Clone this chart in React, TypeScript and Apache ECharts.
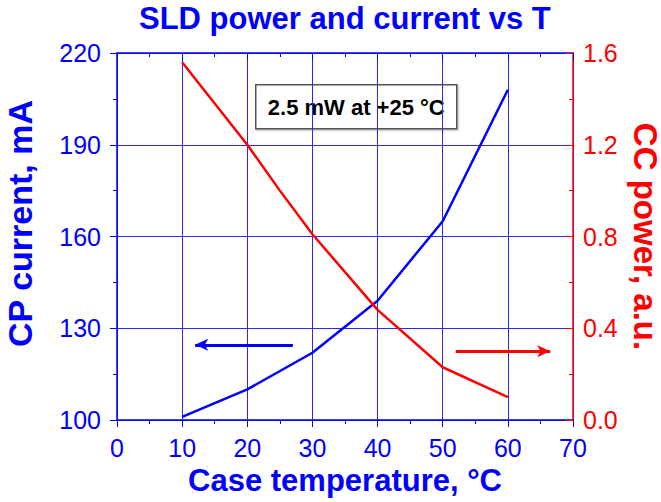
import React, { useEffect, useRef } from "react";
import * as echarts from "echarts";

const temps = [10, 20, 30, 40, 50, 60];
const cpCurrent = [101, 110, 122, 139, 165, 208];
const ccTemps = [10, 20, 25, 30, 40, 50, 60];
const ccPower = [1.56, 1.2, 1.0, 0.81, 0.48, 0.23, 0.1];

const xTicks = { min: 0, max: 70, interval: 10 };
const leftTicks = { min: 100, max: 220, interval: 30 };
const rightTicks = { min: 0, max: 1.6, interval: 0.4 };

const FONT = "'Liberation Sans', Arial, sans-serif";
const BLUE = "#0000ff";
const RED = "#ff0000";

export default function App() {
  const ref = useRef<HTMLDivElement>(null);
  useEffect(() => {
    if (!ref.current) return;
    const chart = echarts.init(ref.current, undefined, { renderer: "svg" });
    chart.setOption({
      animation: false,
      backgroundColor: "#ffffff",
      title: {
        text: "SLD power and current vs T",
        left: 139,
        top: 3,
        padding: 0,
        textStyle: { fontFamily: FONT, fontSize: 31, fontWeight: "bold", color: BLUE },
      },
      grid: {
        left: 117,
        right: 88,
        top: 53,
        bottom: 82,
        containLabel: false,
        outerBoundsMode: "none",
      },
      xAxis: [
        {
          type: "value",
          position: "bottom",
          ...xTicks,
          name: "Case temperature, °C",
          nameLocation: "middle",
          nameGap: 43,
          nameTextStyle: { fontFamily: FONT, fontSize: 31, fontWeight: "bold", color: BLUE },
          axisLine: { show: true, onZero: false, lineStyle: { color: BLUE, width: 1.5 } },
          axisTick: { show: true, length: 7, lineStyle: { color: BLUE, width: 1 } },
          minorTick: { show: true, splitNumber: 2, length: 4, lineStyle: { color: BLUE, width: 1 } },
          axisLabel: { fontFamily: FONT, fontSize: 25, color: BLUE, margin: 15 },
          splitLine: { show: true, lineStyle: { color: "#2a2aff", width: 1 } },
        },
        {
          type: "value",
          position: "top",
          ...xTicks,
          axisLine: { show: true, onZero: false, lineStyle: { color: BLUE, width: 1.5 } },
          axisTick: { show: true, inside: true, length: 7, lineStyle: { color: BLUE, width: 1 } },
          minorTick: { show: true, splitNumber: 2, length: 4, lineStyle: { color: BLUE, width: 1 } },
          axisLabel: { show: false },
          splitLine: { show: false },
        },
      ],
      yAxis: [
        {
          type: "value",
          position: "left",
          ...leftTicks,
          name: "CP current, mA",
          nameLocation: "middle",
          nameGap: 80,
          nameTextStyle: {
            fontFamily: FONT,
            fontSize: 34,
            fontWeight: "bold",
            color: BLUE,
            padding: [0, 0, 0, 26],
          },
          axisLine: { show: true, onZero: false, lineStyle: { color: BLUE, width: 1.5 } },
          axisTick: { show: true, length: 7, lineStyle: { color: BLUE, width: 1 } },
          minorTick: { show: true, splitNumber: 2, length: 4, lineStyle: { color: BLUE, width: 1 } },
          axisLabel: { fontFamily: FONT, fontSize: 25, color: BLUE, margin: 16 },
          splitLine: { show: true, lineStyle: { color: "#2a2aff", width: 1 } },
        },
        {
          type: "value",
          position: "right",
          ...rightTicks,
          name: "CC power, a.u.",
          nameLocation: "middle",
          nameRotate: -90,
          nameGap: 48,
          nameTextStyle: {
            fontFamily: FONT,
            fontSize: 33,
            fontWeight: "bold",
            color: RED,
          },
          axisLine: { show: true, onZero: false, lineStyle: { color: RED, width: 1.5 } },
          axisTick: { show: true, inside: true, length: 7, lineStyle: { color: RED, width: 1 } },
          minorTick: { show: true, splitNumber: 2, length: 4, lineStyle: { color: RED, width: 1 } },
          axisLabel: {
            fontFamily: FONT,
            fontSize: 25,
            color: RED,
            margin: 10,
            formatter: (v: number) => v.toFixed(1),
          },
          splitLine: { show: false },
        },
      ],
      series: [
        {
          name: "CP current",
          type: "line",
          xAxisIndex: 0,
          yAxisIndex: 0,
          data: temps.map((t, i) => [t, cpCurrent[i]]),
          showSymbol: false,
          symbol: "none",
          lineStyle: { color: BLUE, width: 2.5 },
          itemStyle: { color: BLUE },
          markLine: {
            silent: true,
            symbol: ["none", "arrow"],
            symbolSize: [9, 13],
            label: { show: false },
            lineStyle: { color: BLUE, width: 3, type: "solid" },
            emphasis: { disabled: true },
            data: [[{ coord: [27, 124.6] }, { coord: [12, 124.6] }]],
          },
        },
        {
          name: "CC power",
          type: "line",
          xAxisIndex: 0,
          yAxisIndex: 1,
          data: ccTemps.map((t, i) => [t, ccPower[i]]),
          showSymbol: false,
          symbol: "none",
          lineStyle: { color: RED, width: 2.5 },
          itemStyle: { color: RED },
          markLine: {
            silent: true,
            symbol: ["none", "arrow"],
            symbolSize: [9, 13],
            label: { show: false },
            lineStyle: { color: RED, width: 3, type: "solid" },
            emphasis: { disabled: true },
            data: [[{ coord: [52, 0.3] }, { coord: [66.5, 0.3] }]],
          },
        },
      ],
      graphic: [
        {
          type: "group",
          left: 255,
          top: 84,
          children: [
            {
              type: "rect",
              shape: { x: 0, y: 0, width: 201, height: 44 },
              style: {
                fill: "#ffffff",
                stroke: "#555555",
                lineWidth: 1.5,
                shadowBlur: 2,
                shadowOffsetX: 1,
                shadowOffsetY: 1,
                shadowColor: "rgba(0,0,0,0.3)",
              },
            },
            {
              type: "text",
              x: 100.5,
              y: 22.5,
              style: {
                text: "2.5 mW at +25 °C",
                fontFamily: FONT,
                fontSize: 22,
                fontWeight: "bold",
                fill: "#000000",
                align: "center",
                verticalAlign: "middle",
              },
            },
          ],
        },
      ],
    });
    return () => chart.dispose();
  }, []);
  return (
    <div
      ref={ref}
      style={{ position: "fixed", left: 0, top: 0, width: 661, height: 502, background: "#fff" }}
    />
  );
}
